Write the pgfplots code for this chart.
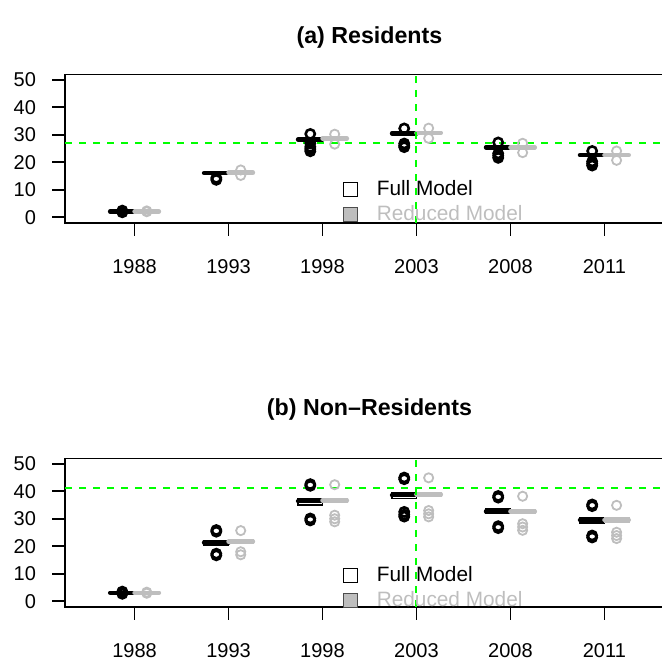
\documentclass[border=0pt]{standalone}
\usepackage{fontspec}
\setmainfont{Liberation Sans}
\usepackage{pgfplots}
\pgfplotsset{compat=1.18}
\definecolor{rgray}{RGB}{190,190,190}
\definecolor{lgreen}{RGB}{0,255,0}
\pgfplotsset{
  panel/.style={scale only axis, width=304.45pt, height=74.2pt,
    xmin=0.26, xmax=6.74, ymin=-2, ymax=52,
    xtick={1,2,3,4,5,6}, xticklabels={1988,1993,1998,2003,2008,2011},
    ytick={0,10,20,30,40,50}, yticklabels={0,10,20,30,40,50},
    xtick pos=bottom, ytick pos=left,
    xtick align=outside, ytick align=outside,
    major tick length=6.5pt,
    axis line style={line width=0.8pt},
    tick style={draw=black, line width=0.8pt},
    ticklabel style={font=\fontsize{10}{12}\selectfont},
    xticklabel style={yshift=-8.5pt},
    yticklabel style={xshift=-4.5pt},
    title style={at={(0.5,1)}, anchor=base, font=\bfseries\fontsize{11.6}{14}\selectfont},
    legend cell align=left,
    legend style={draw=none, fill=none, inner sep=0pt, row sep=0.5pt, column sep=8.5pt,
      font=\fontsize{10.4}{12}\selectfont,
      nodes={inner sep=1pt, text height=8pt, text depth=2pt}},
  },
  gline/.style={forget plot, color=lgreen, line width=1pt, dash pattern=on 3.5pt off 3.5pt},
}
% #1 left, #2 right, #3 lower quartile, #4 median, #5 upper quartile, #6 outliers
\newcommand{\bxF}[6]{%
  \addplot[forget plot, draw=black, fill=white, line width=0.8pt] coordinates {(#1,#3) (#2,#3) (#2,#5) (#1,#5)} -- cycle;
  \addplot[forget plot, draw=black, line width=2.2pt, line cap=round] coordinates {(#1,#4) (#2,#4)};
  \addplot[forget plot, only marks, mark=o, mark size=2.3pt, mark options={draw=black, fill=none, line width=1.3pt}] coordinates {#6};
}
\newcommand{\bxR}[6]{%
  \addplot[forget plot, draw=rgray, fill=rgray, line width=0.8pt] coordinates {(#1,#3) (#2,#3) (#2,#5) (#1,#5)} -- cycle;
  \addplot[forget plot, draw=rgray, line width=2.2pt, line cap=round] coordinates {(#1,#4) (#2,#4)};
  \addplot[forget plot, only marks, mark=o, mark size=2.3pt, mark options={draw=rgray, fill=none, line width=0.9pt}] coordinates {#6};
}
\newcommand{\legF}{\addlegendimage{legend image code/.code={\draw[black, line width=0.6pt, fill=white] (0pt,-3.5pt) rectangle (7pt,3.5pt);}}\addlegendentry{Full Model}}
\newcommand{\legR}{\addlegendimage{legend image code/.code={\draw[black!70, line width=0.6pt, fill=rgray] (0pt,-3.5pt) rectangle (7pt,3.5pt);}}\addlegendentry{\textcolor{rgray}{Reduced Model}}}
\begin{document}
\begin{tikzpicture}
\useasboundingbox (0,0) rectangle (331pt,-330pt);
% ---------------- (a) Residents ----------------
\begin{axis}[panel, at={(32.5pt,-111.35pt)}, anchor=south west,
  title={(a) Residents}, title style={yshift=9.5pt},
  legend style={at={(axis cs:3.21,14.7)}, anchor=north west}]
\legF
\legR
\bxF{0.74}{1.00}{2.0}{2.1}{2.2}{(0.87,1.8) (0.87,2.4)}
\bxR{1.00}{1.26}{2.0}{2.1}{2.2}{(1.13,2.0) (1.13,2.3)}
\bxF{1.74}{2.00}{16.0}{16.1}{16.2}{(1.87,14.3) (1.87,13.6)}
\bxR{2.00}{2.26}{16.1}{16.2}{16.3}{(2.13,17.2) (2.13,15.2)}
\bxF{2.74}{3.00}{28.1}{28.3}{28.5}{(2.87,30.3) (2.87,26.9) (2.87,25.6) (2.87,24.8) (2.87,24.0)}
\bxR{3.00}{3.26}{28.5}{28.7}{28.9}{(3.13,30.2) (3.13,26.6)}
\bxF{3.74}{4.00}{30.3}{30.5}{30.7}{(3.87,32.3) (3.87,26.8) (3.87,26.0) (3.87,25.5)}
\bxR{4.00}{4.26}{30.5}{30.7}{30.9}{(4.13,32.4) (4.13,28.7)}
\bxF{4.74}{5.00}{25.2}{25.4}{25.6}{(4.87,27.2) (4.87,23.2) (4.87,22.4) (4.87,21.6)}
\bxR{5.00}{5.26}{25.2}{25.4}{25.6}{(5.13,26.9) (5.13,23.5)}
\bxF{5.74}{6.00}{22.4}{22.6}{22.8}{(5.87,24.1) (5.87,20.3) (5.87,19.5) (5.87,18.8)}
\bxR{6.00}{6.26}{22.4}{22.6}{22.8}{(6.13,24.1) (6.13,20.7)}
\addplot[gline] coordinates {(0.26,26.9) (6.74,26.9)};
\addplot[gline] coordinates {(4,-2) (4,52)};
\end{axis}
% ---------------- (b) Non-Residents ----------------
\begin{axis}[panel, at={(32.5pt,-303.35pt)}, anchor=south west,
  title={(b) Non\textendash Residents}, title style={yshift=15.3pt},
  legend style={at={(axis cs:3.21,14.0)}, anchor=north west}]
\legF
\legR
\bxF{0.74}{1.00}{2.9}{3.1}{3.3}{(0.87,2.7) (0.87,3.5) (0.87,3.2)}
\bxR{1.00}{1.26}{2.9}{3.1}{3.3}{(1.13,2.9) (1.13,3.3)}
\bxF{1.74}{2.00}{20.5}{21.3}{22.0}{(1.87,25.3) (1.87,25.9) (1.87,16.7) (1.87,17.3)}
\bxR{2.00}{2.26}{21.0}{21.7}{22.2}{(2.13,25.7) (2.13,18.0) (2.13,16.9)}
\bxF{2.74}{3.00}{35.0}{36.4}{37.3}{(2.87,42.0) (2.87,42.6) (2.87,29.4) (2.87,30.1)}
\bxR{3.00}{3.26}{35.9}{36.7}{37.3}{(3.13,42.4) (3.13,31.3) (3.13,30.0) (3.13,28.9)}
\bxF{3.74}{4.00}{37.4}{38.6}{39.3}{(3.87,44.4) (3.87,45.0) (3.87,32.5) (3.87,31.5) (3.87,30.8)}
\bxR{4.00}{4.26}{38.1}{38.8}{39.4}{(4.13,44.9) (4.13,33.0) (4.13,31.8) (4.13,30.7)}
\bxF{4.74}{5.00}{31.9}{32.7}{33.5}{(4.87,37.7) (4.87,38.3) (4.87,26.6) (4.87,27.3)}
\bxR{5.00}{5.26}{32.1}{32.7}{33.3}{(5.13,38.2) (5.13,28.2) (5.13,27.0) (5.13,25.8)}
\bxF{5.74}{6.00}{28.5}{29.6}{30.4}{(5.87,34.6) (5.87,35.2) (5.87,23.2) (5.87,23.9)}
\bxR{6.00}{6.26}{28.9}{29.6}{30.2}{(6.13,34.9) (6.13,25.1) (6.13,23.9) (6.13,22.8)}
\addplot[gline] coordinates {(0.26,41.3) (6.74,41.3)};
\addplot[gline] coordinates {(4,-2) (4,52)};
\end{axis}
\end{tikzpicture}
\end{document}
